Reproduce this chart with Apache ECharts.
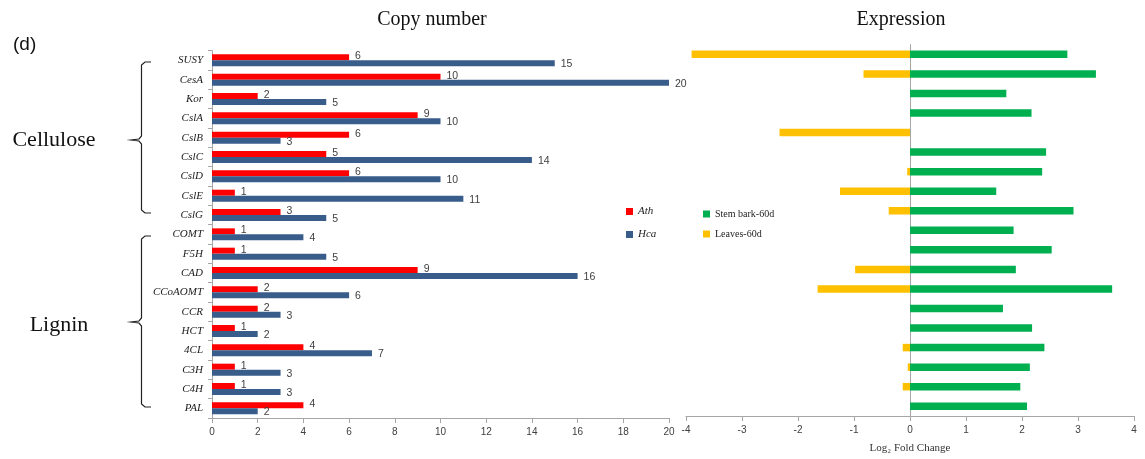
<!DOCTYPE html>
<html>
<head>
<meta charset="utf-8">
<script src="https://cdn.jsdelivr.net/npm/echarts@6/dist/echarts.min.js"></script>
<style>html,body{margin:0;padding:0;background:#fff;}#c{width:1145px;height:459px;}</style>
</head>
<body>
<div id="c"></div>
<script>
const categories = ['SUSY','CesA','Kor','CslA','CslB','CslC','CslD','CslE','CslG','COMT','F5H','CAD','CCoAOMT','CCR','HCT','4CL','C3H','C4H','PAL'];
const athCopies = [6,10,2,9,6,5,6,1,3,1,1,9,2,2,1,4,1,1,4];
const hcaCopies = [15,20,5,10,3,14,10,11,5,4,5,16,6,3,2,7,3,3,2];
const stemBark = [2.81,3.32,1.72,2.17,0,2.43,2.36,1.54,2.92,1.85,2.53,1.89,3.61,1.66,2.18,2.40,2.14,1.97,2.09];
const leaves = [-3.9,-0.83,0,0,-2.33,0,-0.05,-1.25,-0.38,0,0,-0.98,-1.65,0,0,-0.13,-0.04,-0.13,0];
const copyTicks = [0,2,4,6,8,10,12,14,16,18,20];
const exprTicks = [-4,-3,-2,-1,0,1,2,3,4];

const serif = '"Liberation Serif","DejaVu Serif",serif';
const sans = '"Liberation Sans","DejaVu Sans",sans-serif';
const chart = echarts.init(document.getElementById('c'));

const valLabel = {show:true, position:'right', distance:6, color:'#404040', fontFamily:sans, fontSize:10.5};

function brace(top, mid, bot) {
  return [[151,top],[145,top],[141.5,top+3],[141.5,mid-4],[139,mid-1],[131,mid],[139,mid+1],[141.5,mid+4],[141.5,bot-3],[145,bot],[151,bot]];
}

chart.setOption({
  animation:false,
  backgroundColor:'#fff',
  grid:[
    {left:212, right:476, top:50.7, bottom:41},
    {left:686, right:11, top:44.6, bottom:41}
  ],
  legend:[
    {data:['Ath','Hca'], orient:'vertical', left:621, top:201, itemWidth:7, itemHeight:7, itemGap:12, icon:'rect',
     itemStyle:{borderWidth:0},
     textStyle:{fontFamily:serif, fontStyle:'italic', fontSize:11, color:'#222'}},
    {data:['Stem bark-60d','Leaves-60d'], orient:'vertical', left:698, top:204, itemWidth:7, itemHeight:7, itemGap:10, icon:'rect',
     textStyle:{fontFamily:serif, fontSize:10, color:'#222'}}
  ],
  xAxis:[
    {type:'value', gridIndex:0, min:0, max:20, interval:2,
     axisLine:{show:true, lineStyle:{color:'#a6a6a6'}},
     axisTick:{show:true, length:5, lineStyle:{color:'#a6a6a6'}},
     axisLabel:{color:'#404040', fontFamily:sans, fontSize:10, margin:9,
       formatter:v=>copyTicks.includes(v)?String(v):''},
     splitLine:{show:false}},
    {type:'value', gridIndex:1, min:-4, max:4, interval:1,
     name:'Log\u2082 Fold Change', nameLocation:'middle', nameGap:27,
     nameTextStyle:{fontFamily:serif, fontSize:11, color:'#333'},
     axisLine:{show:true, onZero:false, lineStyle:{color:'#a6a6a6'}},
     axisTick:{show:true, length:5, lineStyle:{color:'#a6a6a6'}},
     axisLabel:{color:'#404040', fontFamily:sans, fontSize:10, margin:9,
       formatter:v=>exprTicks.includes(v)?String(v):''},
     splitLine:{show:false}}
  ],
  yAxis:[
    {type:'category', gridIndex:0, data:categories, inverse:true,
     axisLine:{show:true, onZero:false, lineStyle:{color:'#a6a6a6'}},
     axisTick:{show:true, length:4, lineStyle:{color:'#a6a6a6'}},
     axisLabel:{fontFamily:serif, fontStyle:'italic', fontSize:11, color:'#222', margin:9}},
    {type:'category', gridIndex:1, data:categories, inverse:true,
     axisLine:{show:true, onZero:true, lineStyle:{color:'#a6a6a6'}},
     axisTick:{show:false}, axisLabel:{show:false}}
  ],
  series:[
    {name:'Ath', type:'bar', xAxisIndex:0, yAxisIndex:0, data:athCopies, barWidth:6, barGap:'0%',
     itemStyle:{color:'#ff0000'}, label:Object.assign({}, valLabel, {offset:[0,-1]})},
    {name:'Hca', type:'bar', xAxisIndex:0, yAxisIndex:0, data:hcaCopies, barWidth:6, barGap:'0%',
     itemStyle:{color:'#385d8a'}, label:Object.assign({}, valLabel, {offset:[0,1]})},
    {name:'Stem bark-60d', type:'bar', xAxisIndex:1, yAxisIndex:1, data:stemBark, barWidth:7.5, barGap:'-100%',
     itemStyle:{color:'#00b050'}},
    {name:'Leaves-60d', type:'bar', xAxisIndex:1, yAxisIndex:1, data:leaves, barWidth:7.5, barGap:'-100%',
     itemStyle:{color:'#ffc000'}}
  ],
  graphic:[
    {type:'text', x:432, y:20, style:{text:'Copy number', fontSize:20, fontFamily:serif, fill:'#111', align:'center', verticalAlign:'middle'}},
    {type:'text', x:901, y:20, style:{text:'Expression', fontSize:20, fontFamily:serif, fill:'#111', align:'center', verticalAlign:'middle'}},
    {type:'text', x:13, y:45, style:{text:'(d)', fontSize:19, fontFamily:sans, fill:'#111', align:'left', verticalAlign:'middle'}},
    {type:'text', x:54, y:140, style:{text:'Cellulose', fontSize:22, fontFamily:serif, fill:'#111', align:'center', verticalAlign:'middle'}},
    {type:'text', x:59, y:325, style:{text:'Lignin', fontSize:22, fontFamily:serif, fill:'#111', align:'center', verticalAlign:'middle'}},
    {type:'polyline', shape:{points:brace(62,140,213)}, style:{fill:null, stroke:'#222', lineWidth:1.2}},
    {type:'polyline', shape:{points:brace(236,322,407)}, style:{fill:null, stroke:'#222', lineWidth:1.2}}
  ]
});
</script>
</body>
</html>
